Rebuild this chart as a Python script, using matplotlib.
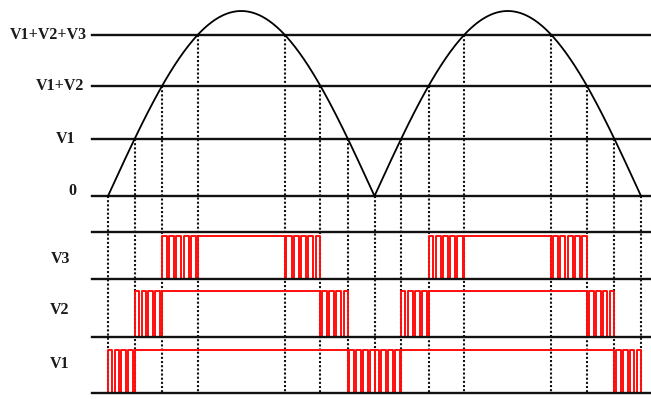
import numpy as np
import matplotlib
matplotlib.use("Agg")
import matplotlib.pyplot as plt

# ---------------- data ----------------
level_labels = ["0", "V1", "V1+V2", "V1+V2+V3"]
levels = [0.0, 0.31, 0.595, 0.872]          # voltage levels (peak = 1)
half_periods = [0.0, 180.0]                 # start of each rectified half-wave (deg)
channel_labels = ["V3", "V2", "V1"]         # top to bottom rows
# number of PWM pulses in each transition band, per source V1, V2, V3
pulses = {"V1": 4, "V2": 4, "V3": 5}
# duty (fraction high) of each pulse in a rising band; falling band mirrors it
duty_rise = {
    "V1": [0.60, 0.65, 0.70, 0.75],
    "V2": [0.60, 0.65, 0.70, 0.75],
    "V3": [0.65, 0.70, 0.70, 0.72, 0.78],
}

# ---------------- layout ----------------
W, H, DPI = 651, 399, 100
x0_px, x1_px = 108, 641          # 0 deg and 360 deg in pixels
s = (x1_px - x0_px) / 360.0      # px per degree
y0_px, amp_px = 196, 185         # zero line and amplitude in pixels

def px2x(px):
    return (px - x0_px) / s

def px2y(py):
    return (y0_px - py) / amp_px

fig = plt.figure(figsize=(W / DPI, H / DPI), dpi=DPI)
ax = fig.add_axes([0, 0, 1, 1])
ax.set_xlim(px2x(0), px2x(W))
ax.set_ylim(px2y(H), px2y(0))
ax.axis("off")

font = dict(family=["Liberation Serif", "DejaVu Serif"], fontweight="bold",
            fontsize=11.5, color="#1a1a1a")

# rectified sine
th = np.linspace(0, 360, 721)
ax.plot(th, np.abs(np.sin(np.radians(th))), color="black", lw=1.3, zorder=3)

# horizontal level lines and labels
label_right_px = {"0": 76, "V1": 75, "V1+V2": 84, "V1+V2+V3": 87}
label_dy_px = {"0": -5, "V1": 0, "V1+V2": 0, "V1+V2+V3": 0}
for lab, lv in zip(level_labels, levels):
    ax.plot([px2x(92), px2x(W)], [lv, lv], color="#111111", lw=1.7, zorder=2)
    ax.text(px2x(label_right_px[lab]), lv + label_dy_px[lab] * (-1 / amp_px), lab,
            ha="right", va="center", **font)

# crossing angles
cross = [np.degrees(np.arcsin(lv)) for lv in levels]  # 0, a1, a2, a3

# PWM rows layout (pixels)
row_lines_px = [232, 279, 337, 393]
row_high_px = {"V3": 236, "V2": 291, "V1": 350}
row_low_px = {"V3": 279, "V2": 337, "V1": 393}
row_label_px = {"V3": 259, "V2": 310, "V1": 364}

bottom_y = px2y(row_lines_px[-1])

# dotted verticals
dot_x = []
for hp in half_periods:
    for k, lv in enumerate(levels):
        a = cross[k]
        dot_x.append((hp + a, lv))
        if k > 0:
            dot_x.append((hp + 180 - a, lv))
dot_x.append((360.0, 0.0))
for xx, lv in dot_x:
    ax.plot([xx, xx], [lv, bottom_y], color="#111111", lw=1.5,
            linestyle=(0, (1, 1.0)), zorder=1)

for py in row_lines_px:
    ax.plot([px2x(92), px2x(W)], [px2y(py)] * 2, color="#111111", lw=1.7, zorder=5)

for name in channel_labels:
    ax.text(px2x(60), px2y(row_label_px[name]), name, ha="center", va="center", **font)

# build PWM waveforms
idx = {"V1": 1, "V2": 2, "V3": 3}
for name in channel_labels:
    k = idx[name]
    a_lo, a_hi = cross[k - 1], cross[k]
    n = pulses[name]
    d = duty_rise[name]
    hi, lo = px2y(row_high_px[name]), px2y(row_low_px[name])
    xs, ys = [px2x(92)], [lo]
    for hp in half_periods:
        # rising band
        p = (a_hi - a_lo) / n
        for i in range(n):
            st = hp + a_lo + i * p
            xs += [st, st + d[i] * p]
            ys += [hi, lo]
        # full high
        xs.append(hp + a_hi)
        ys.append(hi)
        # falling band (mirror)
        fst = hp + 180 - a_hi
        for i in range(n):
            st = fst + i * p
            di = d[n - 1 - i]
            xs += [st, st + (1 - di) * p]
            ys += [lo, hi]
        xs.append(hp + 180 - a_lo)
        ys.append(lo)
    xs.append(px2x(W))
    ys.append(lo)
    ax.plot(xs, ys, drawstyle="steps-post", color="#ff0d0d", lw=1.4, zorder=4)

fig.savefig("out.png", dpi=DPI, facecolor="white")
